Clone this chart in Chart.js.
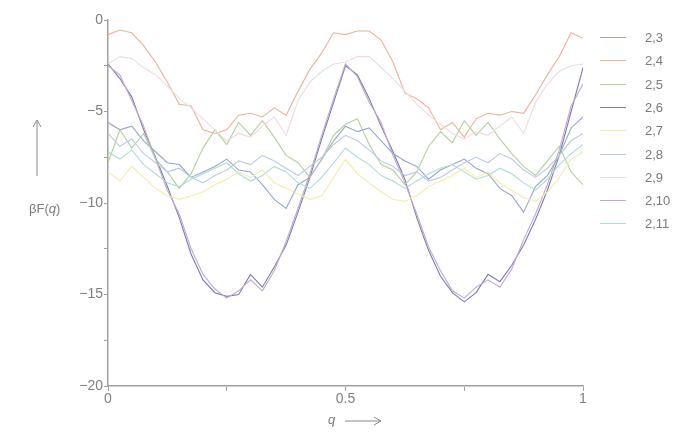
<!DOCTYPE html>
<html><head><meta charset="utf-8">
<script src="https://cdn.jsdelivr.net/npm/chart.js@4/dist/chart.umd.min.js"></script>
<style>
html,body{margin:0;padding:0;background:#fff;}
#wrap{position:relative;width:678px;height:434px;font-family:"Liberation Sans",Arial,sans-serif;color:#7a7a7a;overflow:hidden;}
#c{position:absolute;left:0;top:0;}
.lg{position:absolute;left:600px;width:78px;height:16px;font-size:13px;line-height:16px;}
.lg span.l{position:absolute;left:0;top:7px;width:26px;height:0;border-top:1.5px solid #999;}
.lg span.t{position:absolute;left:45px;top:0;}
.ttl{position:absolute;font-size:13px;}
</style></head>
<body><div id="wrap"><canvas id="c" width="678" height="434"></canvas>
<div class="ttl" style="left:29px;top:201px;">βF(<i>q</i>)</div>
<svg style="position:absolute;left:30px;top:118px" width="14" height="60"><line x1="7" y1="3" x2="7" y2="58" stroke="#888" stroke-width="1"/><path d="M3,9 L7,2 L11,9" fill="none" stroke="#888" stroke-width="1"/></svg>
<div class="ttl" style="left:328px;top:412px;"><i>q</i></div>
<svg style="position:absolute;left:343px;top:414px" width="42" height="14"><line x1="2" y1="7" x2="38" y2="7" stroke="#888" stroke-width="1"/><path d="M31,3 L38,7 L31,11" fill="none" stroke="#888" stroke-width="1"/></svg>
<div id="legend"></div>
</div>
<script>
const qValues = [0,0.025,0.05,0.075,0.1,0.125,0.15,0.175,0.2,0.225,0.25,0.275,0.3,0.325,0.35,0.375,0.4,0.425,0.45,0.475,0.5,
  0.525,0.55,0.575,0.6,0.625,0.65,0.675,0.7,0.725,0.75,0.775,0.8,0.825,0.85,0.875,0.9,0.925,0.95,0.975,1];
const seriesNames = ["2,3","2,4","2,5","2,6","2,7","2,8","2,9","2,10","2,11"];
const seriesColors = ["#96a6cc","#f1b094","#b2d09e","#7a7ab4","#f3eda8","#bccae6","#eedadf","#c4a8cc","#acdcd9"];
const s23 = [-5.6,-6.0,-5.8,-6.6,-7.2,-7.8,-7.9,-8.6,-8.3,-8.0,-7.6,-8.2,-8.3,-9.0,-9.8,-10.3,-9.0,-8.6,-7.6,-6.6,-5.8,
  -6.1,-5.9,-6.6,-7.3,-7.7,-8.0,-8.7,-8.2,-7.9,-7.6,-8.1,-8.4,-9.2,-9.6,-10.5,-9.1,-8.5,-7.4,-5.9,-5.3];
const s24 = [-0.8,-0.55,-0.7,-1.4,-2.3,-3.4,-4.6,-4.7,-6.0,-6.2,-6.0,-5.2,-5.1,-5.3,-4.8,-5.2,-3.9,-2.7,-1.8,-0.7,-0.8,
  -0.6,-0.6,-1.1,-2.3,-4.0,-4.3,-4.8,-6.0,-5.6,-6.4,-5.4,-5.1,-5.2,-5.0,-5.1,-4.1,-3.0,-2.0,-0.7,-1.0];
const s25 = [-7.8,-6.0,-7.0,-6.2,-7.6,-8.3,-9.2,-8.4,-7.0,-6.0,-6.8,-5.6,-6.3,-5.5,-6.4,-7.4,-7.8,-8.6,-7.6,-6.3,-5.7,
  -5.4,-6.8,-7.9,-8.2,-9.0,-8.3,-6.9,-6.1,-6.7,-5.5,-6.3,-5.6,-6.5,-7.3,-8.0,-8.5,-7.7,-6.9,-8.3,-9.0];
const s26 = [-2.4,-3.2,-4.2,-6.0,-7.5,-9.1,-10.8,-12.8,-14.2,-14.9,-15.1,-15.0,-13.9,-14.6,-13.5,-12.3,-10.5,-8.6,-6.5,-4.5,-2.5,
  -3.0,-4.3,-5.8,-7.2,-8.7,-10.8,-12.6,-14.0,-14.9,-15.4,-14.9,-13.9,-14.3,-13.4,-12.3,-10.9,-9.3,-7.4,-5.0,-2.6];
const s27 = [-8.3,-8.8,-8.0,-8.6,-9.2,-9.6,-9.8,-9.6,-9.4,-9.0,-8.7,-8.3,-8.6,-8.2,-8.9,-9.2,-9.5,-9.8,-9.6,-8.6,-7.6,
  -8.4,-8.9,-9.4,-9.8,-9.9,-9.6,-9.1,-8.8,-8.5,-8.1,-8.6,-8.3,-8.9,-9.3,-9.7,-9.9,-9.4,-8.6,-7.6,-7.2];
const s28 = [-6.2,-6.9,-6.5,-7.3,-7.8,-8.3,-8.1,-8.6,-8.9,-8.5,-8.2,-7.7,-7.9,-7.4,-7.7,-8.1,-8.5,-8.0,-7.5,-6.8,-6.3,
  -6.6,-7.1,-7.7,-8.0,-8.5,-8.3,-8.8,-8.6,-8.2,-7.8,-7.5,-7.8,-7.3,-7.6,-8.2,-8.6,-8.1,-7.4,-6.6,-6.2];
const s29 = [-2.4,-2.0,-2.1,-2.6,-3.0,-3.6,-4.3,-4.8,-5.4,-6.0,-6.6,-6.2,-6.4,-5.8,-5.3,-6.3,-4.4,-3.4,-2.8,-2.4,-2.3,
  -2.0,-2.0,-2.6,-3.2,-3.9,-4.6,-5.2,-5.7,-6.2,-6.5,-6.1,-6.3,-5.8,-5.3,-6.2,-4.5,-3.5,-2.8,-2.5,-2.4];
const s210 = [-2.5,-3.0,-4.4,-5.8,-7.6,-9.3,-10.6,-12.5,-13.9,-14.7,-15.2,-14.8,-14.2,-14.8,-13.7,-12.1,-10.3,-8.4,-6.3,-4.3,-2.4,
  -3.1,-4.5,-5.6,-7.4,-8.9,-10.6,-12.4,-13.7,-14.8,-15.2,-14.6,-14.2,-14.6,-13.6,-12.0,-10.6,-9.0,-7.1,-4.7,-3.5];
const s211 = [-7.2,-7.6,-7.1,-7.9,-8.4,-8.9,-9.1,-8.7,-8.4,-8.1,-7.8,-8.4,-8.8,-8.5,-8.0,-8.3,-8.9,-9.2,-8.6,-7.8,-7.0,
  -7.5,-7.9,-8.5,-8.8,-9.2,-8.8,-8.4,-8.1,-7.9,-8.3,-8.7,-8.5,-8.1,-8.4,-8.9,-9.3,-8.7,-7.9,-7.3,-6.8];
const seriesValues = [s23,s24,s25,s26,s27,s28,s29,s210,s211];
const yTickLabels = {"0":"0","-5":"\u22125","-10":"\u221210","-15":"\u221215","-20":"\u221220"};
const xTickLabels = {"0":"0","0.5":"0.5","1":"1"};

const order = [6,4,8,5,2,0,1,7,3];
const datasets = order.map(i => ({
  label: seriesNames[i],
  data: qValues.map((q,k) => ({x:q, y:seriesValues[i][k]})),
  borderColor: seriesColors[i],
  borderWidth: 1.1,
  pointRadius: 0,
  tension: 0,
  fill: false
}));

new Chart(document.getElementById('c'), {
  type: 'line',
  data: {datasets},
  options: {
    responsive: false, animation: false, devicePixelRatio: 1,
    layout: {padding: {left:0, right:95, top:20, bottom:0}},
    plugins: {legend: {display:false}, tooltip: {enabled:false}},
    scales: {
      x: {type:'linear', min:0, max:1,
        ticks: {stepSize:0.25, autoSkip:false, maxRotation:0, color:'#7f7f7f', font:{size:14, family:'"Liberation Sans", Arial, sans-serif'}, padding:0,
          callback: v => xTickLabels[String(v)] ?? ''},
        grid: {drawOnChartArea:false, tickLength:5, color:'#a0a0a0'},
        border: {color:'#a0a0a0', width:1.5},
        afterFit: s => { s.height = 48; }
      },
      y: {min:-20, max:0,
        ticks: {stepSize:2.5, autoSkip:false, color:'#7f7f7f', font:{size:14, family:'"Liberation Sans", Arial, sans-serif'}, padding:1,
          callback: v => yTickLabels[String(v)] ?? ''},
        grid: {drawOnChartArea:false, tickLength:4, color:'#a0a0a0'},
        border: {color:'#a0a0a0', width:1.5},
        afterFit: s => { s.width = 108; }
      }
    }
  }
});

const leg = document.getElementById('legend');
seriesNames.forEach((n,i) => {
  const d = document.createElement('div');
  d.className = 'lg';
  d.style.top = (30 + i*23.3) + 'px';
  d.innerHTML = '<span class="l" style="border-top-color:'+seriesColors[i]+'"></span><span class="t">'+n+'</span>';
  leg.appendChild(d);
});
</script>
</body></html>
